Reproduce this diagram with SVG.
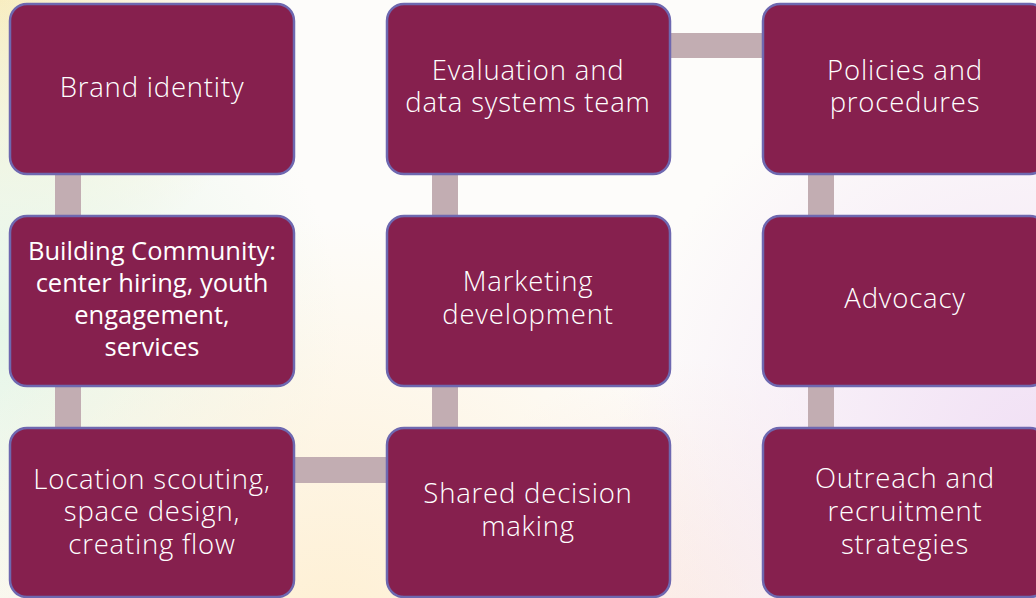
<svg xmlns="http://www.w3.org/2000/svg" width="1036" height="598" viewBox="0 0 1036 598">
<defs>
<radialGradient id="gY" cx="0" cy="0" r="280" gradientUnits="userSpaceOnUse"><stop offset="0" stop-color="#F8EDC0"/><stop offset="1" stop-color="#F8EDC0" stop-opacity="0"/></radialGradient>
<radialGradient id="gM" cx="0" cy="330" r="340" gradientUnits="userSpaceOnUse"><stop offset="0" stop-color="#E6F6E8"/><stop offset="1" stop-color="#E6F6E8" stop-opacity="0"/></radialGradient>
<radialGradient id="gC" cx="330" cy="640" r="420" gradientUnits="userSpaceOnUse"><stop offset="0" stop-color="#FEEFD2"/><stop offset="1" stop-color="#FEEFD2" stop-opacity="0"/></radialGradient>
<radialGradient id="gL" cx="1036" cy="450" r="420" gradientUnits="userSpaceOnUse"><stop offset="0" stop-color="#F1E0F5"/><stop offset="1" stop-color="#F1E0F5" stop-opacity="0"/></radialGradient>
<radialGradient id="gP" cx="680" cy="620" r="260" gradientUnits="userSpaceOnUse"><stop offset="0" stop-color="#FCEDE6"/><stop offset="1" stop-color="#FCEDE6" stop-opacity="0"/></radialGradient>
<style>
.box{fill:#86204E;stroke:#6E68B0;stroke-width:2.5}
.con{fill:#C2ADB2}
.t{font-family:"Open Sans","Liberation Sans",sans-serif;font-weight:300;font-size:27.5px;letter-spacing:0.8px;fill:#FFFFFF;text-anchor:middle;font-variant-ligatures:none}
.c{font-family:"Open Sans","Liberation Sans",sans-serif;font-size:25.5px;fill:#FFFFFF;text-anchor:middle}
</style>
</defs>
<rect x="0" y="0" width="1036" height="598" fill="#FDFCFA"/>
<rect x="0" y="0" width="1036" height="598" fill="url(#gY)"/>
<rect x="0" y="0" width="1036" height="598" fill="url(#gM)"/>
<rect x="0" y="0" width="1036" height="598" fill="url(#gC)"/>
<rect x="0" y="0" width="1036" height="598" fill="url(#gP)"/>
<rect x="0" y="0" width="1036" height="598" fill="url(#gL)"/>
<g id="connectors">
<rect class="con" x="55" y="172" width="26" height="46"/>
<rect class="con" x="55" y="384" width="26" height="46"/>
<rect class="con" x="292" y="457" width="97" height="26"/>
<rect class="con" x="432" y="384" width="26" height="46"/>
<rect class="con" x="432" y="172" width="26" height="46"/>
<rect class="con" x="668" y="33" width="97" height="25"/>
<rect class="con" x="808" y="172" width="26" height="46"/>
<rect class="con" x="808" y="384" width="26" height="46"/>
</g>
<g id="n1"><rect class="box" x="10" y="4" width="284" height="170" rx="17"/><text class="t" x="152" y="97">Brand identity</text></g>
<g id="n2"><rect class="box" x="10" y="216" width="284" height="170" rx="17"/><text class="c" x="152" y="260">Building Community:</text><text class="c" x="152" y="292">center hiring, youth</text><text class="c" x="152" y="324">engagement,</text><text class="c" x="152" y="356">services</text></g>
<g id="n3"><rect class="box" x="10" y="428" width="284" height="169" rx="17"/><text class="t" x="152" y="489">Location scouting,</text><text class="t" x="152" y="521">space design,</text><text class="t" x="152" y="554">creating flow</text></g>
<g id="n4"><rect class="box" x="387" y="428" width="283" height="169" rx="17"/><text class="t" x="528" y="503">Shared decision</text><text class="t" x="528" y="536">making</text></g>
<g id="n5"><rect class="box" x="387" y="216" width="283" height="170" rx="17"/><text class="t" x="528" y="291">Marketing</text><text class="t" x="528" y="324">development</text></g>
<g id="n6"><rect class="box" x="387" y="4" width="283" height="170" rx="17"/><text class="t" x="528" y="80">Evaluation and</text><text class="t" x="528" y="112">data systems team</text></g>
<g id="n7"><rect class="box" x="763" y="4" width="284" height="170" rx="17"/><text class="t" x="905" y="80">Policies and</text><text class="t" x="905" y="112">procedures</text></g>
<g id="n8"><rect class="box" x="763" y="216" width="284" height="170" rx="17"/><text class="t" x="905" y="308">Advocacy</text></g>
<g id="n9"><rect class="box" x="763" y="428" width="284" height="169" rx="17"/><text class="t" x="905" y="488">Outreach and</text><text class="t" x="905" y="521">recruitment</text><text class="t" x="905" y="554">strategies</text></g>
</svg>
